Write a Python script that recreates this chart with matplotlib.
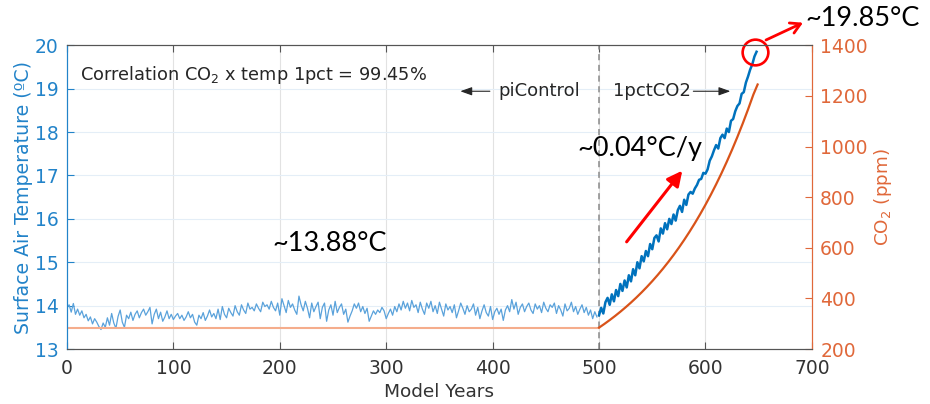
import numpy as np
import matplotlib
matplotlib.use("Agg")
import matplotlib.pyplot as plt

plt.rcParams["font.family"] = ["DejaVu Sans"]
plt.rcParams["mathtext.default"] = "regular"

# ---------------------------------------------------------------------------
# Data: global-mean surface air temperature and CO2 concentration
# ---------------------------------------------------------------------------
years_pictrl = np.arange(0, 500, 2)
temp_pictrl = [
    13.95, 14.02, 13.85, 14.05, 13.80, 13.92, 13.78, 13.88, 13.72, 13.80,
    13.65, 13.74, 13.58, 13.70, 13.62, 13.52, 13.45, 13.60, 13.50, 13.72,
    13.55, 13.82, 13.60, 13.48, 13.75, 13.90, 13.62, 13.50, 13.78, 13.70,
    13.85, 13.66, 13.80, 13.88, 13.72, 13.84, 13.92, 13.78, 13.86, 13.96,
    13.58, 13.80, 13.92, 13.70, 13.85, 13.64, 13.74, 13.88, 13.70, 13.80,
    13.68, 13.76, 13.82, 13.70, 13.78, 13.66, 13.74, 13.86, 13.72, 13.80,
    13.62, 13.55, 13.78, 13.70, 13.84, 13.66, 13.76, 13.90, 13.74, 13.82,
    13.70, 13.92, 13.68, 13.98, 13.80, 13.72, 13.94, 13.84, 13.76, 14.00,
    13.86, 13.78, 14.02, 13.90, 13.82, 14.06, 13.92, 13.96, 13.88, 14.04,
    13.94, 13.86, 14.08, 13.98, 14.02, 13.92, 14.10, 13.96, 13.88, 14.06,
    13.78, 14.16, 14.00, 13.84, 14.12, 13.96, 14.04, 13.90, 13.80, 14.22,
    14.02, 13.88, 14.10, 13.94, 13.72, 14.06, 13.86, 13.98, 14.08, 13.70,
    13.96, 14.06, 13.64, 13.90, 14.02, 13.78, 14.10, 13.84, 13.96, 14.04,
    13.80, 13.92, 13.62, 13.76, 13.88, 14.04, 13.94, 14.06, 13.86, 13.98,
    13.82, 13.94, 13.64, 13.76, 13.88, 13.80, 13.90, 13.84, 13.96, 13.88,
    13.70, 13.82, 13.92, 13.78, 13.98, 13.86, 14.04, 13.90, 14.10, 13.94,
    14.06, 13.88, 14.12, 13.96, 14.02, 13.84, 14.08, 13.92, 13.80, 14.06,
    13.94, 14.10, 13.86, 14.00, 13.82, 14.08, 13.92, 13.76, 14.04, 13.90,
    13.98, 13.84, 14.02, 13.72, 13.88, 14.06, 13.94, 13.80, 14.00, 13.86,
    13.92, 14.04, 13.78, 13.96, 13.70, 13.88, 14.02, 13.84, 13.76, 13.98,
    13.68, 13.86, 13.94, 13.80, 13.92, 13.66, 13.90, 14.00, 13.86, 14.14,
    13.92, 14.08, 13.80, 13.96, 14.04, 13.86, 13.98, 14.06, 13.90, 13.82,
    14.04, 13.92, 14.00, 13.84, 14.08, 13.94, 13.86, 14.02, 13.96, 14.06,
    13.82, 14.00, 13.90, 13.76, 14.04, 13.88, 13.94, 14.08, 13.86, 13.98,
    13.80, 13.92, 14.02, 13.84, 13.96, 13.78, 13.90, 13.70, 13.86, 13.74,
]

years_1pct = np.arange(500, 650, 2)
temp_1pct = [
    13.78, 13.95, 13.82, 14.08, 14.18, 14.02, 14.26, 14.10, 14.36, 14.22,
    14.50, 14.34, 14.58, 14.42, 14.70, 14.56, 14.84, 14.70, 15.00, 14.86,
    15.14, 15.02, 15.26, 15.14, 15.42, 15.30, 15.56, 15.62, 15.48, 15.78,
    15.66, 15.90, 15.76, 16.00, 15.88, 16.10, 15.96, 16.20, 16.30, 16.16,
    16.44, 16.32, 16.56, 16.62, 16.58, 16.70, 16.78, 16.90, 16.92, 17.06,
    17.04, 17.14, 17.34, 17.44, 17.58, 17.70, 17.62, 17.86, 17.94, 17.86,
    18.08, 18.00, 18.26, 18.30, 18.48, 18.60, 18.66, 18.88, 18.92, 19.14,
    19.28, 19.44, 19.56, 19.74, 19.85,
]

years_co2_pictrl = [0, 500]
co2_pictrl = [284.7, 284.7]

years_co2_1pct = [500, 505, 510, 515, 520, 525, 530, 535, 540, 545, 550,
                  555, 560, 565, 570, 575, 580, 585, 590, 595, 600, 605,
                  610, 615, 620, 625, 630, 635, 640, 645, 649]
co2_1pct = [284.7, 299.2, 314.5, 330.5, 347.4, 365.1, 383.7, 403.3, 423.9,
            445.5, 468.2, 492.1, 517.2, 543.6, 571.3, 600.5, 631.1, 663.3,
            697.1, 732.7, 770.0, 809.3, 850.6, 894.0, 939.6, 987.5, 1037.9,
            1090.8, 1146.5, 1205.0, 1245.0]

temp_mean = 13.88
temp_end = 19.85
trend = 0.04
correlation = 99.45

BLUE = "#0072BD"
BLUE_TXT = "#2283c9"
BLUE_LIGHT = "#5aa2db"
ORANGE = "#D95319"
ORANGE_TXT = "#e0683a"
ORANGE_LIGHT = "#f5ad8c"

# ---------------------------------------------------------------------------
# Figure
# ---------------------------------------------------------------------------
fig = plt.figure(figsize=(9.3, 4.04), dpi=100)
ax = fig.add_axes([0.072, 0.136, 0.801, 0.752])
ax2 = ax.twinx()

ax.plot(years_pictrl, temp_pictrl, color=BLUE_LIGHT, lw=0.9, zorder=3)
ax.plot(years_1pct, temp_1pct, color=BLUE, lw=1.8, zorder=3)
ax.axvline(500, color="#8a8a8a", lw=1.1, ls=(0, (4, 3)), zorder=2)

ax2.plot(years_co2_pictrl, co2_pictrl, color=ORANGE_LIGHT, lw=1.5)
ax2.plot(years_co2_1pct, co2_1pct, color=ORANGE, lw=1.6)

ax.set_xlim(0, 700)
ax.set_ylim(13, 20)
ax2.set_ylim(200, 1400)
ax.set_xticks(np.arange(0, 701, 100))
ax.set_yticks(np.arange(13, 21, 1))
ax2.set_yticks(np.arange(200, 1401, 200))

# grid: vertical grey, horizontal tinted by the left axis
for xv in range(100, 700, 100):
    ax.axvline(xv, color="#e2e2e2", lw=0.8, zorder=0)
for yv in range(14, 20):
    ax.axhline(yv, color="#e4eef7", lw=0.8, zorder=0)

ax.tick_params(axis="x", direction="in", length=5, width=0.8, top=True,
               labelsize=13.5, labelcolor="#333333", color="#555555", pad=7)
ax.tick_params(axis="y", direction="in", length=5, width=0.8,
               labelsize=13.5, labelcolor=BLUE_TXT, color=BLUE_TXT, pad=6)
ax2.tick_params(axis="y", direction="in", length=5, width=0.8,
                labelsize=13.5, labelcolor=ORANGE_TXT, color=ORANGE_TXT, pad=6)

for a in (ax, ax2):
    a.spines["top"].set_color("#555555")
    a.spines["bottom"].set_color("#555555")
    a.spines["left"].set_color(BLUE_TXT)
    a.spines["right"].set_color(ORANGE_TXT)
    for s in a.spines.values():
        s.set_linewidth(0.8)

ax.set_xlabel("Model Years", fontsize=13.3, color="#333333", labelpad=4)
ax.set_ylabel("Surface Air Temperature (ºC)", fontsize=13.6, color=BLUE_TXT,
              labelpad=1)
ax2.set_ylabel("CO$_2$ (ppm)", fontsize=13.2, color=ORANGE_TXT, labelpad=3)

# ---------------------------------------------------------------------------
# Annotations
# ---------------------------------------------------------------------------
ax.text(12, 19.31, f"Correlation CO$_2$ x temp 1pct = {correlation:.2f}%",
        fontsize=12.8, color="#262626", va="center", ha="left", zorder=5)

ax.text(405, 18.94, "piControl", fontsize=13, color="#262626",
        va="center", ha="left", zorder=5)
ax.annotate("", xy=(367, 18.94), xytext=(400, 18.94),
            arrowprops=dict(arrowstyle="-|>,head_length=0.7,head_width=0.25",
                            color="#262626", lw=0.8))
ax.text(513, 18.94, "1pctCO2", fontsize=13, color="#262626",
        va="center", ha="left", zorder=5)
ax.annotate("", xy=(626, 18.94), xytext=(586, 18.94),
            arrowprops=dict(arrowstyle="-|>,head_length=0.7,head_width=0.25",
                            color="#262626", lw=0.8))

ax.text(193, 15.44, f"~{temp_mean:.2f}°C", fontsize=19.5, family="Lato",
        color="black", va="center", ha="left", zorder=5)
ax.text(480, 17.63, f"~{trend:.2f}°C/y", fontsize=19.5, family="Lato",
        color="black", va="center", ha="left", zorder=6)
ax.annotate("", xy=(578.2, 17.11), xytext=(525.9, 15.47),
            arrowprops=dict(arrowstyle="-|>,head_length=0.9,head_width=0.45",
                            color="red", lw=2.2, shrinkA=0, shrinkB=0),
            zorder=6)

# circle around the final temperature value and a pointer to the label
ax.plot([646.4], [temp_end], marker="o", ms=18.5, mfc="none", mec="red",
        mew=1.9, clip_on=False, zorder=7)
fig.text(805 / 930, 1 - 18 / 404, f"~{temp_end:.2f}°C", fontsize=19.5,
         family="Lato", color="black", va="center", ha="left")
ax.annotate("", xy=(803, 404 - 22.7), xytext=(766, 404 - 40),
            xycoords="figure pixels", textcoords="figure pixels",
            arrowprops=dict(arrowstyle="->,head_length=0.7,head_width=0.4",
                            color="red", lw=2.0, shrinkA=0, shrinkB=0),
            annotation_clip=False, zorder=7)

fig.savefig("out.png", dpi=100)
plt.close(fig)
